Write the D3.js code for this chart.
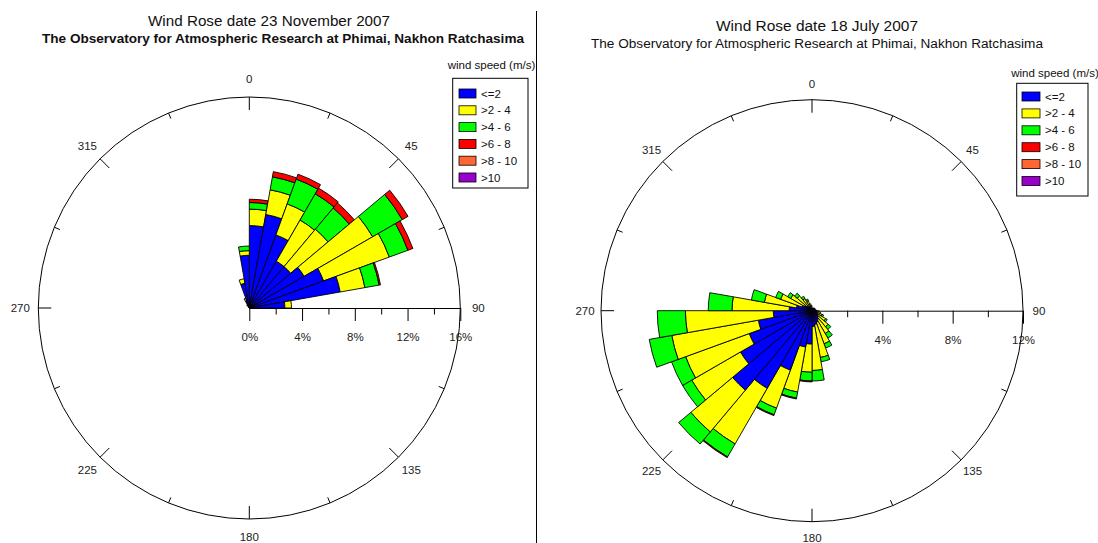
<!DOCTYPE html>
<html><head><meta charset="utf-8">
<script src="https://cdn.jsdelivr.net/npm/d3@7"></script>
<style>body{margin:0;background:#fff}svg{display:block;font-family:"Liberation Sans",Arial,sans-serif}</style>
</head><body><svg id="c" width="1098" height="543"></svg>
<script>
// ---- data ----
const directions = d3.range(5, 360, 10); // sector centres (deg)
const speedClasses = ["<=2", ">2 - 4", ">4 - 6", ">6 - 8", ">8 - 10", ">10"];
const compassLabels = ["0", "45", "90", "135", "180", "225", "270", "315"];

// 23 November 2007 (percent of time per sector, per speed class)
const novLe2   = [6.25,7.2,5.9,4.1,4.1,4.8,6.0,7.0,2.7, 0,0,0,0,0,0,0,0,0,0,0,0,0,0,0,0,0,0,0,0,0,0,0, 0.3,0.6,1.9,4.0];
const nov2to4  = [1.25,1.9,2.5,3.6,3.7,6.0,5.3,1.9,0.5, 0,0,0,0,0,0,0,0,0,0,0,0,0,0,0,0,0,0,0,0,0,0,0, 0,0.2,0.35,0.35];
const nov4to6  = [0.5,1.0,2.0,2.3,2.1,2.6,1.5,1.1,0, 0,0,0,0,0,0,0,0,0,0,0,0,0,0,0,0,0,0,0,0,0,0,0, 0,0,0,0.35];
const nov6to8  = [0.25,0.4,0.4,0.5,0.5,0.5,0.4,0.1,0, 0,0,0,0,0,0,0,0,0,0,0,0,0,0,0,0,0,0,0,0,0,0,0, 0,0,0,0];
const nov8to10 = new Array(36).fill(0);
const novGt10  = new Array(36).fill(0);

// 18 July 2007
const julLe2   = [0.15,0.15,0.15,0.2,0.2,0.2,0.2,0.2,0.25,0.3,0.3,0.3,0.4,0.5,0.6,0.7,0.8,0.9,1.9,2.1,3.6,5.1,5.9,4.7,3.8,3.1,2.2,1.3,0.9,0.6,0.5,0.4,0.3,0.3,0.2,0.2];
const jul2to4  = [0,0,0,0,0,0,0,0,0,0.1,0.2,0.3,0.5,0.7,0.9,1.3,1.9,2.5,1.6,2.6,2.3,3.65,3.1,3.2,3.85,5.0,5.0,3.25,1.85,1.3,0.9,0.7,0.5,0.3,0.2,0.1];
const jul4to6  = [0,0,0,0,0,0,0,0,0,0,0,0.1,0.1,0.2,0.3,0.26,0.25,0.6,0.5,0.35,0.4,0.85,0.9,0.6,0.85,1.3,1.6,1.35,0.75,0.3,0.2,0.2,0.15,0.1,0,0];
const jul6to8  = [0,0,0,0,0,0,0,0,0,0,0,0,0,0,0,0,0,0,0.05,0.05,0.05,0.05,0,0,0,0,0,0,0,0,0,0,0,0,0,0];
const jul8to10 = new Array(36).fill(0);
const julGt10  = new Array(36).fill(0);

const novTicks = [0, 4, 8, 12, 16];
const julTicks = [0, 4, 8, 12];

// ---- styles ----
const classColors = ["#0000ff", "#ffff00", "#00ff00", "#ff0000", "#ff6633", "#9900cc"];

const svg = d3.select("#c");

// divider
svg.append("line").attr("x1", 536.5).attr("x2", 536.5).attr("y1", 11).attr("y2", 543)
  .attr("stroke", "#000").attr("stroke-width", 1);

function drawRose(o) {
  const g = svg.append("g");
  const R = 211;
  const r = d3.scaleLinear().domain([0, o.max]).range([0, R]);
  // titles
  g.append("text").attr("x", o.t1x).attr("y", o.t1y).attr("text-anchor", "middle")
    .attr("font-size", 14).attr("fill", "#111")
    .attr("textLength", o.t1w).attr("lengthAdjust", "spacingAndGlyphs").text(o.title1);
  g.append("text").attr("x", o.t2x).attr("y", o.t2y).attr("text-anchor", "middle")
    .attr("font-size", 12.5).attr("font-weight", o.bold ? "bold" : "normal").attr("fill", "#111")
    .attr("textLength", o.t2w).attr("lengthAdjust", "spacingAndGlyphs").text(o.title2);

  const c = g.append("g").attr("transform", `translate(${o.cx},${o.cy})`);
  c.append("circle").attr("r", R).attr("fill", "none").attr("stroke", "#000").attr("stroke-width", 1);
  // compass ticks
  d3.range(0, 360, 22.5).forEach(a => {
    if (a === 90) return;
    const len = (a % 45 === 0) ? 13 : 6;
    const rad = a * Math.PI / 180;
    c.append("line")
      .attr("x1", Math.sin(rad) * R).attr("y1", -Math.cos(rad) * R)
      .attr("x2", Math.sin(rad) * (R - len)).attr("y2", -Math.cos(rad) * (R - len))
      .attr("stroke", "#000").attr("stroke-width", 1);
  });
  compassLabels.forEach(l => {
    const rad = (+l) * Math.PI / 180;
    c.append("text").attr("x", Math.sin(rad) * o.lr).attr("y", -Math.cos(rad) * o.lr)
      .attr("text-anchor", "middle").attr("dy", "0.35em").attr("font-size", 11.5).attr("fill", "#222").text(l);
  });
  // radial axis (towards 90 deg)
  const minor = d3.range(2, o.max, 4);
  c.append("g").call(d3.axisBottom(r).tickValues(minor).tickSize(6.5).tickSizeOuter(0).tickFormat(""))
    .call(s => s.select(".domain").remove())
    .selectAll("line").attr("stroke", "#000");
  const ax = c.append("g").call(d3.axisBottom(r).tickValues(o.ticks).tickSize(13).tickSizeOuter(0)
      .tickPadding(12).tickFormat(d => d + "%"));
  ax.select(".domain").attr("stroke", "#000");
  ax.selectAll("line").attr("stroke", "#000");
  ax.selectAll("text").attr("font-size", 11.5).attr("font-family", "Liberation Sans, Arial, sans-serif").attr("fill", "#222");

  // bars
  const arc = d3.arc();
  const half = 5 * Math.PI / 180;
  directions.forEach((d, i) => {
    let acc = 0;
    o.series.forEach((s, k) => {
      const v = s[i];
      if (!(v > 0)) return;
      const a = d * Math.PI / 180;
      c.append("path").attr("d", arc({innerRadius: r(acc), outerRadius: r(acc + v), startAngle: a - half, endAngle: a + half}))
        .attr("fill", classColors[k]).attr("stroke", "#000").attr("stroke-width", 0.9).attr("stroke-linejoin", "round");
      acc += v;
    });
  });

  // legend
  const lg = g.append("g");
  lg.append("text").attr("x", o.lgTitleX).attr("y", o.lgTitleY).attr("text-anchor", "middle")
    .attr("font-size", 11.5).attr("fill", "#111").text("wind speed (m/s)");
  lg.append("rect").attr("x", o.box[0]).attr("y", o.box[1]).attr("width", o.box[2]).attr("height", o.box[3])
    .attr("fill", "#fff").attr("stroke", "#000").attr("stroke-width", 1);
  speedClasses.forEach((s, k) => {
    const y = o.entryY0 + k * o.entryDy;
    lg.append("rect").attr("x", o.swX).attr("y", y - 4.5).attr("width", o.swW).attr("height", 9)
      .attr("fill", classColors[k]).attr("stroke", "#000").attr("stroke-width", 0.8);
    lg.append("text").attr("x", o.swX + o.swW + 5).attr("y", y + 4).attr("font-size", 11.5).attr("fill", "#111").text(s);
  });
}

drawRose({
  cx: 249.3, cy: 308, max: 16, ticks: novTicks, lr: 229,
  series: [novLe2, nov2to4, nov4to6, nov6to8, nov8to10, novGt10],
  title1: "Wind Rose date 23 November 2007", t1x: 269, t1y: 26, t1w: 242,
  title2: "The Observatory for Atmospheric Research at Phimai, Nakhon Ratchasima", t2x: 283, t2y: 43, t2w: 482, bold: true,
  lgTitleX: 491.5, lgTitleY: 69, box: [452.7, 78.3, 75.3, 109.7],
  swX: 459, swW: 17, entryY0: 93.5, entryDy: 16.8
});
drawRose({
  cx: 812, cy: 310.7, max: 12, ticks: julTicks, lr: 227,
  series: [julLe2, jul2to4, jul4to6, jul6to8, jul8to10, julGt10],
  title1: "Wind Rose date 18 July 2007", t1x: 817, t1y: 31, t1w: 202,
  title2: "The Observatory for Atmospheric Research at Phimai, Nakhon Ratchasima", t2x: 817, t2y: 48, t2w: 452, bold: false,
  lgTitleX: 1055, lgTitleY: 77, box: [1016.7, 83.3, 71.3, 112.7],
  swX: 1022, swW: 18, entryY0: 96.5, entryDy: 16.9
});
</script></body></html>
